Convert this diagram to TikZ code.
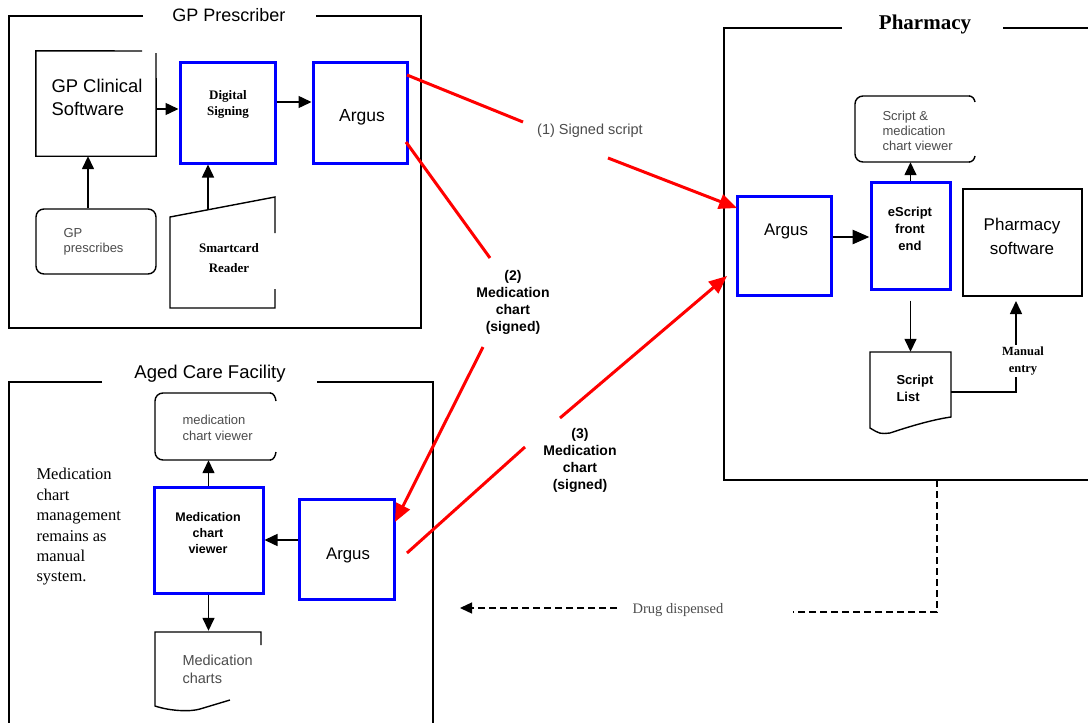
\documentclass[tikz,border=0pt]{standalone}
\usepackage{fontspec}
\setmainfont{Liberation Serif}
\setsansfont{Liberation Sans}
\usetikzlibrary{arrows.meta}
\begin{document}
\begin{tikzpicture}[x=1pt,y=-1pt,
  ln/.style={draw=black, line width=1.4pt},
  bbox/.style={draw=blue, line width=3pt, inner sep=0pt},
  kbox/.style={draw=black, line width=1.4pt, inner sep=0pt},
  ghost/.style={inner sep=0pt},
  arr/.style={draw=black, line width=1.5pt, -{Triangle[length=13pt,width=12pt]}},
  thickarr/.style={draw=black, line width=2.8pt, -{Triangle[length=17pt,width=14pt]}},
  redln/.style={draw=red, line width=3pt},
  redarr/.style={draw=red, line width=3pt, -{Triangle[length=18pt,width=15pt]}},
  dashln/.style={draw=black, line width=1.3pt, dash pattern=on 7pt off 4pt},
  dasharr/.style={dashln, -{Triangle[length=12pt,width=11pt]}},
  title/.style={font=\sffamily\fontsize{18}{20}\selectfont},
  big/.style={font=\sffamily\fontsize{17.5}{23}\selectfont, align=center},
  small/.style={font=\sffamily\fontsize{13}{15}\selectfont, text=black!70, align=left, anchor=west},
  smallb/.style={font=\sffamily\bfseries\fontsize{12.5}{16}\selectfont, align=center},
  serifb/.style={font=\rmfamily\bfseries\fontsize{13}{20}\selectfont, align=center},
  flowlab/.style={font=\sffamily\bfseries\fontsize{14}{17}\selectfont, align=center}
]
\useasboundingbox[fill=white] (0,0) rectangle (1088,723);

% ---------------- GP Prescriber ----------------
\draw[ln] (143,16) -- (9,16) -- (9,328) -- (421,328) -- (421,16) -- (316,16);
\node[title] (gpt) at (229,15) {GP Prescriber};

\node[ghost, minimum width=120pt, minimum height=105pt] (gpcs) at (96,103.5) {};
\draw[ln] (142,51) -- (gpcs.north west) -- (gpcs.south west) -- (gpcs.south east) -- (156,53);
\node[big, font=\sffamily\fontsize{18.4}{23}\selectfont, align=left, anchor=west] (gpcst) at (48,97) {GP Clinical\\Software};

\node[bbox, minimum width=95pt, minimum height=101pt] (dsign) at (227.5,112.5) {};
\node[serifb, font=\rmfamily\bfseries\fontsize{13}{16}\selectfont] (dsignt) at (228,104) {Digital\\Signing};

\node[bbox, minimum width=94pt, minimum height=101pt] (gparg) at (360,112.5) {};
\node[big] (gpargt) at (362,117) {Argus};

\node[kbox, rounded corners=8pt, minimum width=120pt, minimum height=65pt] (gpp) at (96,241.5) {};
\node[small] (gppt) at (60,242) {GP\\prescribes};

\node[ghost, minimum width=105pt, minimum height=111pt] (scard) at (222.5,252.5) {};
\draw[ln] (275,233) -- (275,197) -- (170,217) -- (170,308) -- (275,308) -- (275,289);
\node[serifb] (scardt) at (229,258) {Smartcard\\Reader};
\coordinate (scardtop) at (208,210);

\draw[arr] ([yshift=-5.5pt]gpcs.east) -- ([yshift=3.5pt]dsign.west);
\draw[arr] ([yshift=10.5pt]dsign.east) -- ([yshift=10.5pt]gparg.west);
\draw[arr] ([xshift=-8pt]gpp.north) -- ([xshift=-8pt]gpcs.south);
\draw[arr] (scardtop) -- ([xshift=-19.5pt]dsign.south);

% ---------------- Pharmacy ----------------
\draw[ln] (842,28) -- (724,28) -- (724,480) -- (1095,480);
\draw[ln] (1003,28) -- (1095,28);
\node[font=\rmfamily\bfseries\fontsize{21}{24}\selectfont] (pht) at (925,24) {Pharmacy};

\node[ghost, minimum width=120pt, minimum height=66pt] (pview) at (915,129) {};
\draw[ln, rounded corners=8pt] (970,96) -- (855,96) -- (855,162) -- (970,162);
\draw[ln] (969,96) to[out=0,in=100] (975,102);
\draw[ln] (969,162) to[out=0,in=-100] (975,156);
\node[small] (pviewt) at (879,131) {Script \&\\medication\\chart viewer};

\node[bbox, minimum width=94pt, minimum height=99pt] (parg) at (784,245.5) {};
\node[big, font=\sffamily\fontsize{16.8}{20}\selectfont] (pargt) at (786,231) {Argus};

\node[bbox, minimum width=79pt, minimum height=107pt] (escr) at (910.5,235.5) {};
\node[smallb, font=\sffamily\bfseries\fontsize{13}{17}\selectfont] (escrt) at (910,229) {eScript\\front\\end};

\node[kbox, minimum width=119pt, minimum height=107pt] (psoft) at (1022.5,242.5) {};
\node[big, font=\sffamily\fontsize{17}{24}\selectfont] (psoftt) at (1022,236) {Pharmacy\\software};

\node[ghost, minimum width=81pt, minimum height=80pt] (slist) at (910.5,392) {};
\draw[ln] (870,352) -- (951,352) -- (951,417) .. controls (930,420) and (905,428) .. (890,433) .. controls (880,434) .. (870,428) -- cycle;
\node[font=\sffamily\bfseries\fontsize{13}{17}\selectfont, align=left, anchor=west] (slistt) at (893,388) {Script\\List};

\coordinate (mc) at (1016,392);
\coordinate (mend) at (1016,301);
\draw[thickarr] (parg.east |- 0,237) -- (escr.west |- 0,237);
\draw[arr] (escr.north) -- (escr.north |- pview.south);
\draw[arr] ([yshift=-10pt]escr.south) -- (escr.south |- slist.north);
\draw[arr] (slist.east) -- (mc) -- (mend);
\node[font=\rmfamily\bfseries\fontsize{12.5}{17}\selectfont, align=center, fill=white, inner sep=2pt] (manl) at (1023,361) {Manual\\entry};

% ---------------- Aged Care Facility ----------------
\draw[ln] (102,382) -- (9,382) -- (9,730);
\draw[ln] (317,382) -- (433,382) -- (433,730);
\node[title, font=\sffamily\fontsize{18.5}{20}\selectfont] (act) at (210,374) {Aged Care Facility};

\node[ghost, minimum width=121pt, minimum height=67pt] (acview) at (215.5,426.5) {};
\draw[ln, rounded corners=8pt] (271,393) -- (155,393) -- (155,460) -- (271,460);
\draw[ln] (270,393) to[out=0,in=100] (276,401);
\draw[ln] (270,460) to[out=0,in=-100] (276,452);
\node[small, font=\sffamily\fontsize{13}{16}\selectfont] (acviewt) at (179,428) {medication\\chart viewer};

\node[bbox, minimum width=109pt, minimum height=106pt] (mcv) at (208.5,540) {};
\node[smallb] (mcvt) at (208,533) {Medication\\chart\\viewer};

\node[bbox, minimum width=95pt, minimum height=100pt] (acarg) at (346.5,549) {};
\node[big, font=\sffamily\fontsize{16.8}{20}\selectfont] (acargt) at (348,555) {Argus};

\node[ghost, minimum width=106pt, minimum height=78pt] (mcharts) at (208,670) {};
\draw[ln] (261,645) -- (261,632) -- (155,632) -- (155,706) .. controls (170,711) and (190,712) .. (200,709) -- (230,700);
\node[small, font=\sffamily\fontsize{14.5}{18}\selectfont] (mchartst) at (179,669) {Medication\\charts};

\node[anchor=north west, font=\rmfamily\fontsize{16.5}{20.4}\selectfont, align=left] (note) at (33,465) {Medication\\chart\\management\\remains as\\manual\\system.};

\draw[arr] ([yshift=9pt]acarg.west) -- (mcv.east);
\draw[arr] (mcv.north) -- (mcv.north |- acview.south);
\draw[arr] (mcv.south) -- (mcv.south |- mcharts.north);

% ---------------- Red flows ----------------
\coordinate (r1a) at (407,75);
\coordinate (r1b) at (523,122);
\coordinate (r1c) at (608,158);
\coordinate (r1d) at (737,208);
\node[font=\sffamily\fontsize{14.5}{16}\selectfont, text=black!70] (l1) at (590,131) {(1) Signed script};
\draw[redln] (r1a) -- (r1b);
\draw[redarr] (r1c) -- (r1d);

\coordinate (r2a) at (406,142);
\coordinate (r2b) at (490,258);
\coordinate (r2c) at (483,347);
\coordinate (r2d) at (395,522);
\node[flowlab] (l2) at (513,302) {(2)\\Medication\\chart\\(signed)};
\draw[redln] (r2a) -- (r2b);
\draw[redarr] (r2c) -- (r2d);

\coordinate (r3a) at (407,553);
\coordinate (r3b) at (525,447);
\coordinate (r3c) at (560,418);
\coordinate (r3d) at (727,276);
\node[flowlab] (l3) at (580,460) {(3)\\Medication\\chart\\(signed)};
\draw[redln] (r3a) -- (r3b);
\draw[redarr] (r3c) -- (r3d);

% ---------------- Drug dispensed ----------------
\coordinate (d1) at (937,480);
\coordinate (d2) at (937,612);
\coordinate (d3) at (793,612);
\coordinate (d4) at (617,608);
\coordinate (d5) at (460,608);
\draw[dashln] (d1) -- (d2) -- (d3);
\node[font=\rmfamily\fontsize{14.5}{16}\selectfont, text=black!70] (dl) at (678,610) {Drug dispensed};
\draw[dasharr] (d4) -- (d5);
\end{tikzpicture}
\end{document}
